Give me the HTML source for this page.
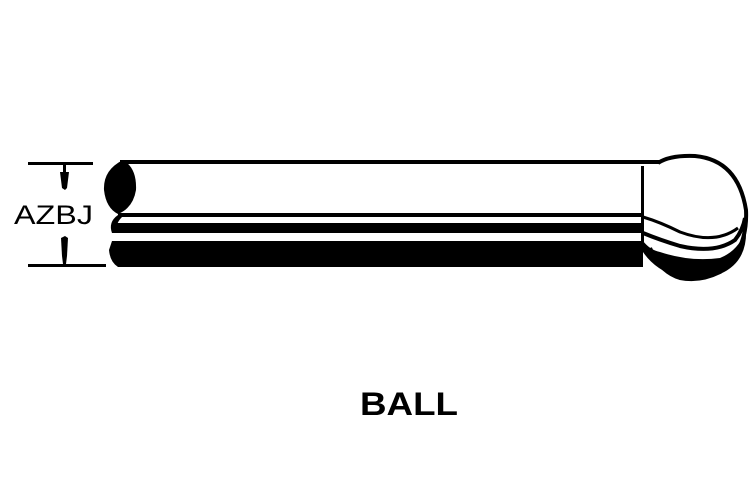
<!DOCTYPE html>
<html><head><style>
html,body{margin:0;padding:0;background:#fff;}
svg{display:block;}
text{font-family:"Liberation Sans",sans-serif;fill:#000;}
</style></head><body>
<svg width="753" height="494" viewBox="0 0 753 494" xmlns="http://www.w3.org/2000/svg">
<!-- dimension lines -->
<rect x="28" y="162" width="65" height="3" fill="#000"/>
<rect x="28" y="264" width="78" height="3" fill="#000"/>
<rect x="63" y="164" width="3" height="8" fill="#000"/>
<path d="M60 172 L69 172 L67 188 L65 190 L62 188 Z" fill="#000"/>
<path d="M61 238 L65 236 L68 238 L67 256 L66 264 L63 264 L62 256 Z" fill="#000"/>
<text x="14" y="224" font-size="27" textLength="79" lengthAdjust="spacingAndGlyphs">AZBJ</text>
<!-- cylinder top edge -->
<rect x="120" y="160" width="540" height="4" fill="#000"/>
<!-- lower bands -->
<rect x="118" y="213" width="525" height="4" fill="#000"/>
<rect x="112" y="223" width="531" height="10" fill="#000"/>
<path d="M112 241 L643 241 L643 267 L118 267 Q110 262 109 250 Z" fill="#000"/>
<!-- left end -->
<path d="M123 160 Q103 170 104 190 Q106 208 118 214 Q133 208 136 190 Q137 168 123 160 Z" fill="#000"/>
<path d="M118 215 Q108 222 112 233 L118 233 Q114 225 122 217 Z" fill="#000"/>
<!-- right vertical seam -->
<rect x="641" y="166" width="3" height="76" fill="#000"/>
<!-- ball -->
<path d="M643 241 Q650 250 660 252 Q690 262 720 258 Q740 250 746 228 Q748 262 720 274 Q700 282 680 278 Q655 270 643 252 Z" fill="#000"/>
<path d="M643 233 Q660 240 680 246 Q715 254 735 240 Q743 230 745 218" fill="none" stroke="#000" stroke-width="4"/>
<path d="M643 217 Q660 222 680 232 Q715 245 738 228" fill="none" stroke="#000" stroke-width="3"/>
<path d="M658 163 Q670 155 695 156 Q738 160 746 210 Q748 250 720 272 Q700 282 680 278 Q660 272 650 248" fill="none" stroke="#000" stroke-width="4"/>
<text x="360" y="415" font-size="32" font-weight="bold" textLength="98" lengthAdjust="spacingAndGlyphs">BALL</text>
</svg>
</body></html>
